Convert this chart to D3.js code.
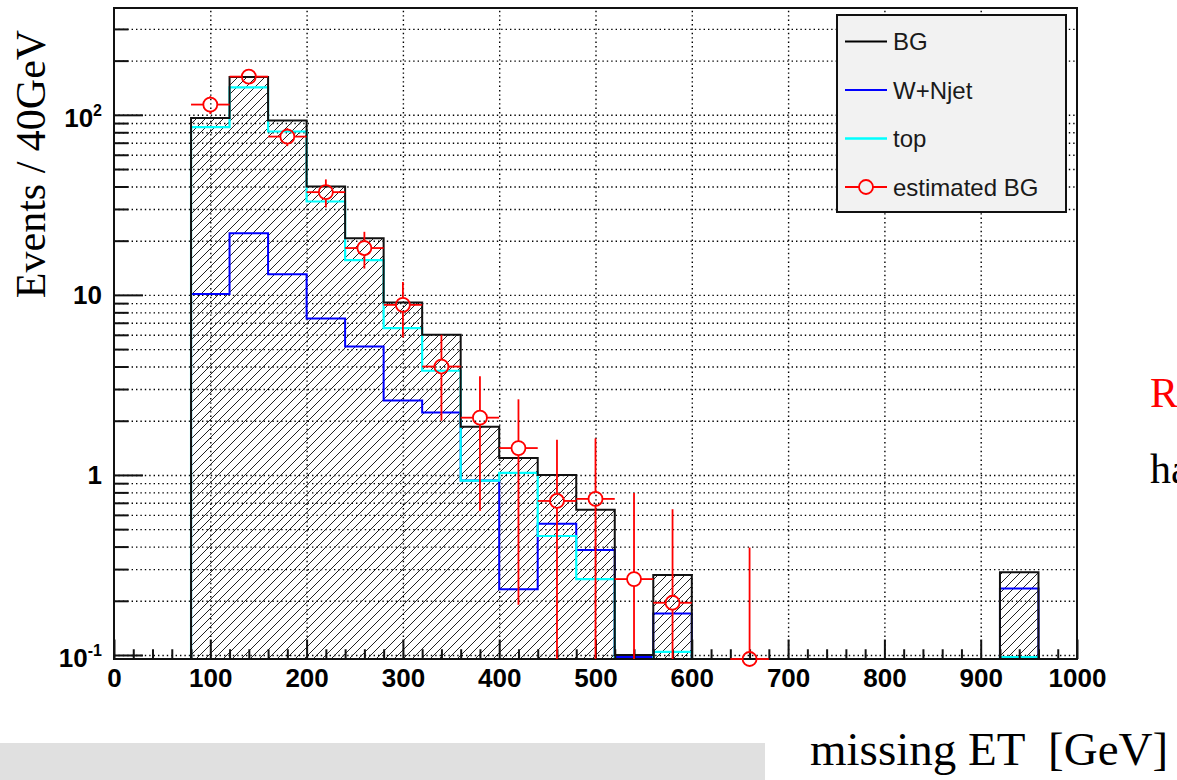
<!DOCTYPE html>
<html>
<head>
<meta charset="utf-8">
<script src="https://cdn.jsdelivr.net/npm/d3@7"></script>
<style>
  html, body { margin: 0; padding: 0; background: #fff; overflow: hidden; }
  #graph-container { width: 1177px; height: 780px; }
  .tick-label { font-family: "Liberation Sans", Arial, sans-serif; font-weight: bold; fill: #000; }
  .serif { font-family: "Liberation Serif", "Times New Roman", serif; }
</style>
</head>
<body>
<div id="graph-container"></div>
<script>
// Bin low edges, 40 GeV wide
const binLow = [80, 120, 160, 200, 240, 280, 320, 360, 400, 440, 480, 520,
  560, 600, 640, 680, 720, 760, 800, 840, 880, 920, 960];
const binWidth = 40;

// Stacked MC (black, hatched), W+Njet (blue), top (cyan)
const bgValues = [96, 162, 93, 40, 20.6, 9.06, 6.0, 1.85, 1.24, 1.0, 0.64, 0.1,
  0.278, 0, 0, 0, 0, 0, 0, 0, 0, 0.288, 0];
const wjetValues = [10.1, 22.0, 13.0, 7.4, 5.16, 2.59, 2.22, 0.93, 0.232, 0.535, 0.383, 0.09,
  0.17, 0, 0, 0, 0, 0, 0, 0, 0, 0.234, 0];
const topValues = [85.4, 142, 80.8, 33, 15.6, 6.53, 3.79, 0.93, 1.026, 0.458, 0.264, 0,
  0.104, 0, 0, 0, 0, 0, 0, 0, 0, 0.08, 0];

// Estimated BG points (bin centre, value, symmetric error)
const estX = [100, 140, 180, 220, 260, 300, 340, 380, 420, 460, 500, 540, 580, 660];
const estY = [114, 163, 75.7, 37.2, 18.2, 8.8, 4.0, 2.08, 1.41, 0.717, 0.736, 0.264, 0.195, 0.095];
const estErr = [13, 13, 8.7, 6.6, 4.2, 3.0, 2.0, 1.45, 1.22, 0.85, 0.86, 0.53, 0.45, 0.30];

// Axes
const xTickLabels = [0, 100, 200, 300, 400, 500, 600, 700, 800, 900, 1000];
const xGridValues = [100, 200, 300, 400, 500, 600, 700, 800, 900];
const yMajorTicks = [0.1, 1, 10, 100];
const yMajorLabels = [['10', '-1'], ['1', ''], ['10', ''], ['10', '2']];
const yMinorTicks = [0.2, 0.3, 0.4, 0.5, 0.6, 0.7, 0.8, 0.9, 2, 3, 4, 5, 6, 7, 8, 9,
  20, 30, 40, 50, 60, 70, 80, 90, 200, 300];
const yDomain = [0.095, 392];

const legendNames = ['BG', 'W+Njet', 'top', 'estimated BG'];
const legendColors = ['#000', '#0000ff', '#00ffff', '#ff0000'];

const colWjet = '#0000ff';
const colTop = '#00ffff';
const colEst = '#ff0000';

function drawGraph() {
  const frame = {left: 114, right: 1077, top: 8, bottom: 659};

  const svg = d3.select('#graph-container')
    .append('svg')
    .attr('width', 1177)
    .attr('height', 780);

  const defs = svg.append('defs');
  const pat = defs.append('pattern')
    .attr('id', 'hatch')
    .attr('patternUnits', 'userSpaceOnUse')
    .attr('width', 9)
    .attr('height', 9);
  pat.append('path')
    .attr('d', 'M-1,1 l2,-2 M0,9 l9,-9 M8,10 l2,-2')
    .attr('stroke', '#222')
    .attr('stroke-width', 1);

  defs.append('clipPath').attr('id', 'frame-clip')
    .append('rect')
    .attr('x', frame.left)
    .attr('y', frame.top)
    .attr('width', frame.right - frame.left)
    .attr('height', frame.bottom - frame.top);

  const xScale = d3.scaleLinear()
    .domain([0, 1000])
    .range([frame.left, frame.right]);

  const yScale = d3.scaleLog()
    .domain(yDomain)
    .range([frame.bottom, frame.top]);

  // grey strip at the bottom left
  svg.append('rect')
    .attr('x', 0).attr('y', 743)
    .attr('width', 765).attr('height', 37)
    .attr('fill', '#e0e0e0');

  // Grid (dotted)
  const gridX = d3.axisBottom(xScale)
    .tickValues(xGridValues)
    .tickSize(-(frame.bottom - frame.top))
    .tickFormat('');
  svg.append('g')
    .attr('class', 'grid')
    .attr('transform', `translate(0,${frame.bottom})`)
    .call(gridX);

  const gridY = d3.axisLeft(yScale)
    .tickValues(yMajorTicks.concat(yMinorTicks))
    .tickSize(-(frame.right - frame.left))
    .tickFormat('');
  svg.append('g')
    .attr('class', 'grid')
    .attr('transform', `translate(${frame.left},0)`)
    .call(gridY);

  svg.selectAll('.grid .domain').remove();
  svg.selectAll('.grid line')
    .attr('stroke', '#000')
    .attr('stroke-width', 1.4)
    .attr('stroke-dasharray', '1.4,3');

  // Histograms
  const hidden = frame.bottom + 4;
  function yPos(v) {
    if (v <= 0) return hidden;
    return Math.min(yScale(v), frame.bottom - 2);
  }
  function stepPath(values) {
    let d = `M${xScale(binLow[0])},${hidden}`;
    values.forEach((v, i) => {
      d += `L${xScale(binLow[i])},${yPos(v)}L${xScale(binLow[i] + binWidth)},${yPos(v)}`;
    });
    d += `L${xScale(binLow[binLow.length - 1] + binWidth)},${hidden}`;
    return d;
  }

  const hist = svg.append('g').attr('clip-path', 'url(#frame-clip)');

  hist.append('path')
    .attr('d', stepPath(bgValues) + 'Z')
    .attr('fill', 'url(#hatch)')
    .attr('stroke', 'none');

  hist.append('path')
    .attr('d', stepPath(wjetValues))
    .attr('fill', 'none')
    .attr('stroke', colWjet)
    .attr('stroke-width', 2);

  hist.append('path')
    .attr('d', stepPath(topValues))
    .attr('fill', 'none')
    .attr('stroke', colTop)
    .attr('stroke-width', 2.2);

  hist.append('path')
    .attr('d', stepPath(bgValues))
    .attr('fill', 'none')
    .attr('stroke', '#111')
    .attr('stroke-width', 2);

  // Axes ticks (inside the frame)
  const xMajor = d3.axisBottom(xScale)
    .tickValues(xTickLabels)
    .tickSize(-19.5)
    .tickPadding(10)
    .tickFormat(d3.format('d'));
  const xAxisG = svg.append('g')
    .attr('transform', `translate(0,${frame.bottom})`)
    .call(xMajor);
  xAxisG.selectAll('text')
    .attr('class', 'tick-label')
    .style('font-size', '26px');

  const xMinor = d3.axisBottom(xScale)
    .tickValues(d3.range(20, 1000, 20).filter(d => d % 100 !== 0))
    .tickSize(-9.75)
    .tickFormat('');
  svg.append('g')
    .attr('transform', `translate(0,${frame.bottom})`)
    .call(xMinor);

  const yMajor = d3.axisLeft(yScale)
    .tickValues(yMajorTicks)
    .tickSize(-29)
    .tickFormat('');
  svg.append('g')
    .attr('transform', `translate(${frame.left},0)`)
    .call(yMajor);

  const yMinor = d3.axisLeft(yScale)
    .tickValues(yMinorTicks)
    .tickSize(-14.5)
    .tickFormat('');
  svg.append('g')
    .attr('transform', `translate(${frame.left},0)`)
    .call(yMinor);

  svg.selectAll('.domain').remove();
  svg.selectAll('g:not(.grid) > .tick > line')
    .attr('stroke', '#111')
    .attr('stroke-width', 2);

  // y labels with exponents
  yMajorTicks.forEach((v, i) => {
    const lab = yMajorLabels[i];
    const t = svg.append('text')
      .attr('class', 'tick-label')
      .attr('text-anchor', 'end')
      .attr('x', 102)
      .attr('y', yScale(v) + (lab[1] ? 12 : 9))
      .style('font-size', '26px');
    t.append('tspan').text(lab[0]);
    if (lab[1]) {
      t.append('tspan')
        .attr('dy', -11)
        .style('font-size', '16px')
        .text(lab[1]);
    }
  });

  // Frame
  svg.append('rect')
    .attr('x', frame.left)
    .attr('y', frame.top)
    .attr('width', frame.right - frame.left)
    .attr('height', frame.bottom - frame.top)
    .attr('fill', 'none')
    .attr('stroke', '#111')
    .attr('stroke-width', 2);

  // Estimated BG points with error bars
  const r = 7;
  const est = svg.append('g')
    .attr('stroke', colEst)
    .attr('stroke-width', 1.8)
    .attr('fill', 'none');
  estX.forEach((cxv, i) => {
    const cx = xScale(cxv);
    const cy = Math.min(yScale(estY[i]), frame.bottom);
    const xl = xScale(cxv - binWidth / 2);
    const xr = xScale(cxv + binWidth / 2);
    const yTop = yScale(estY[i] + estErr[i]);
    const lo = estY[i] - estErr[i];
    const yBot = lo > yDomain[0] ? yScale(lo) : frame.bottom;
    est.append('line').attr('x1', xl).attr('x2', cx - r).attr('y1', cy).attr('y2', cy);
    est.append('line').attr('x1', cx + r).attr('x2', xr).attr('y1', cy).attr('y2', cy);
    if (yTop < cy - r) {
      est.append('line').attr('x1', cx).attr('x2', cx).attr('y1', cy - r).attr('y2', yTop);
    }
    if (yBot > cy + r) {
      est.append('line').attr('x1', cx).attr('x2', cx).attr('y1', cy + r).attr('y2', yBot);
    }
    est.append('circle').attr('cx', cx).attr('cy', cy).attr('r', r);
  });

  // Legend
  const leg = svg.append('g');
  leg.append('rect')
    .attr('x', 837).attr('y', 15)
    .attr('width', 229).attr('height', 197)
    .attr('fill', '#f2f2f2')
    .attr('stroke', '#111')
    .attr('stroke-width', 2);
  legendNames.forEach((name, i) => {
    const yc = 41.5 + i * 48.5;
    leg.append('line')
      .attr('x1', 845).attr('x2', 887)
      .attr('y1', yc).attr('y2', yc)
      .attr('stroke', legendColors[i])
      .attr('stroke-width', i === 2 ? 2.4 : 1.8);
    if (i === 3) {
      leg.append('circle')
        .attr('cx', 866).attr('cy', yc).attr('r', r)
        .attr('fill', '#f2f2f2')
        .attr('stroke', colEst)
        .attr('stroke-width', 1.8);
    }
    leg.append('text')
      .attr('x', 893)
      .attr('y', yc + 8.5)
      .style('font-family', '"Liberation Sans", Arial, sans-serif')
      .style('font-size', '24px')
      .attr('fill', '#1a1a1a')
      .text(name);
  });

  // Titles
  svg.append('text')
    .attr('class', 'serif')
    .attr('transform', 'translate(45,164) rotate(-90)')
    .attr('text-anchor', 'middle')
    .style('font-size', '42px')
    .text('Events / 40GeV');

  svg.append('text')
    .attr('class', 'serif')
    .attr('x', 810)
    .attr('y', 765)
    .attr('xml:space', 'preserve')
    .style('white-space', 'pre')
    .style('font-size', '47px')
    .text('missing ET  [GeV]');

  // text cut off on the right, as in the source picture
  svg.append('text')
    .attr('class', 'serif')
    .attr('x', 1150).attr('y', 407)
    .attr('fill', '#ff0000')
    .style('font-size', '42px')
    .text('R');
  svg.append('text')
    .attr('class', 'serif')
    .attr('x', 1150).attr('y', 483)
    .style('font-size', '42px')
    .text('ha');
}

drawGraph();
</script>
</body>
</html>
